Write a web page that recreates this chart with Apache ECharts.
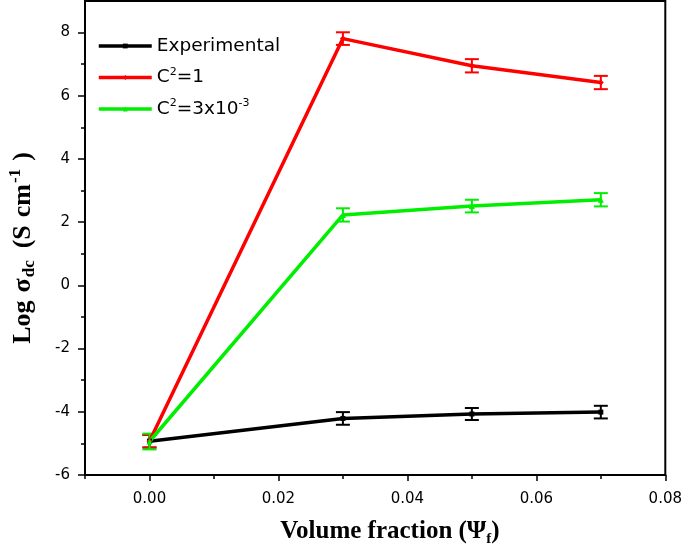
<!DOCTYPE html>
<html><head><meta charset="utf-8">
<script src="https://cdn.jsdelivr.net/npm/echarts@6/dist/echarts.min.js"></script>
<style>html,body{margin:0;padding:0;background:#fff}#c{width:685px;height:551px}</style>
</head><body><div id="c"></div>
<script>
const xValues = [0.00, 0.03, 0.05, 0.07];
const expVals = [-4.93, -4.21, -4.07, -4.01];
const expErr  = [0.2, 0.2, 0.19, 0.2];
const c1Vals  = [-4.93, 7.81, 6.95, 6.42];
const c1Err   = [0.2, 0.2, 0.21, 0.21];
const c3Vals  = [-4.94, 2.23, 2.51, 2.71];
const c3Err   = [0.25, 0.21, 0.2, 0.21];
const xTickLabels = [0.00, 0.02, 0.04, 0.06, 0.08];
const xMinor = [-0.01, 0.01, 0.03, 0.05, 0.07];
const yTickLabels = [-6, -4, -2, 0, 2, 4, 6, 8];
const yMinor = [-5, -3, -1, 1, 3, 5, 7];
const names = ['Experimental', 'C2=1', 'C2=3x10-3'];
const colors = ['#000000', '#ff0000', '#00ee00'];

const pairs = (ys) => xValues.map((x, i) => [x, ys[i]]);
function errSeries(ys, errs, color) {
  return {
    type: 'custom',
    data: xValues.map((x, i) => [x, ys[i] - errs[i], ys[i] + errs[i]]),
    renderItem: function (params, api) {
      const lo = api.coord([api.value(0), api.value(1)]);
      const hi = api.coord([api.value(0), api.value(2)]);
      const w = 7;
      const st = { stroke: color, lineWidth: 2 };
      return {
        type: 'group',
        children: [
          { type: 'line', shape: { x1: lo[0], y1: lo[1], x2: hi[0], y2: hi[1] }, style: st },
          { type: 'line', shape: { x1: lo[0] - w, y1: lo[1], x2: lo[0] + w, y2: lo[1] }, style: st },
          { type: 'line', shape: { x1: hi[0] - w, y1: hi[1], x2: hi[0] + w, y2: hi[1] }, style: st }
        ]
      };
    },
    silent: true, z: 3
  };
}
const chart = echarts.init(document.getElementById('c'));
const font = 'DejaVu Sans';
const serif = 'Liberation Serif';
chart.setOption({
  animation: false,
  grid: { left: 85, right: 16, top: 1, bottom: 76, show: true, borderColor: '#000', borderWidth: 2, containLabel: false },
  xAxis: [{
    type: 'value', min: -0.01, max: 0.08, interval: 0.01,
    axisLine: { onZero: false, lineStyle: { color: '#000', width: 2 } },
    axisTick: { inside: false, length: 6, lineStyle: { color: '#000', width: 1.5 }, customValues: xTickLabels },
    axisLabel: { customValues: xTickLabels, margin: 17, fontFamily: font, fontSize: 15, color: '#000', formatter: v => v.toFixed(2) },
    splitLine: { show: false }
  }, {
    type: 'value', min: -0.01, max: 0.08, position: 'bottom',
    axisLine: { show: false, onZero: false },
    axisTick: { inside: false, length: 4, lineStyle: { color: '#000', width: 1.5 }, customValues: xMinor },
    axisLabel: { show: false }, splitLine: { show: false }
  }],
  yAxis: [{
    type: 'value', min: -6, max: 9, interval: 1,
    axisLine: { show: true, onZero: false, lineStyle: { color: '#000', width: 2 } },
    axisTick: { show: true, inside: false, length: 7, lineStyle: { color: '#000', width: 1.5 }, customValues: yTickLabels },
    axisLabel: { customValues: yTickLabels, margin: 15, fontFamily: font, fontSize: 15, color: '#000' },
    splitLine: { show: false }
  }, {
    type: 'value', min: -6, max: 9, position: 'left',
    axisLine: { show: false, onZero: false },
    axisTick: { show: true, inside: false, length: 4, lineStyle: { color: '#000', width: 1.5 }, customValues: yMinor },
    axisLabel: { show: false }, splitLine: { show: false }
  }],
  legend: {
    left: 97, top: 35, padding: 0, orient: 'vertical', itemWidth: 53, itemHeight: 6, itemGap: 9.5,
    data: names,
    lineStyle: { width: 3.5 },
    textStyle: {
      fontFamily: font, fontSize: 18.5, color: '#000', lineHeight: 22,
      rich: { n: { fontFamily: font, fontSize: 18.5, color: '#000', lineHeight: 22 }, s: { fontFamily: font, fontSize: 11, color: '#000', padding: [0, 0, 11, 0] } }
    },
    formatter: function (name) {
      if (name === 'C2=1') return '{n|C}{s|2}{n|=1}';
      if (name === 'C2=3x10-3') return '{n|C}{s|2}{n|=3x10}{s|-3}';
      return '{n|' + name + '}';
    }
  },
  series: [
    { name: names[0], type: 'line', data: pairs(expVals), symbol: 'rect', symbolSize: 5, color: colors[0], lineStyle: { width: 3.5, color: colors[0] }, itemStyle: { color: colors[0] }, z: 4 },
    { name: names[1], type: 'line', data: pairs(c1Vals), symbol: 'diamond', symbolSize: 6, color: colors[1], lineStyle: { width: 3.5, color: colors[1] }, itemStyle: { color: colors[1] }, z: 4 },
    { name: names[2], type: 'line', data: pairs(c3Vals), symbol: 'triangle', symbolSize: 6, color: colors[2], lineStyle: { width: 3.5, color: colors[2] }, itemStyle: { color: colors[2] }, z: 4 },
    errSeries(expVals, expErr, colors[0]),
    errSeries(c1Vals, c1Err, colors[1]),
    errSeries(c3Vals, c3Err, colors[2])
  ],
  graphic: [
    { type: 'text', x: 390, y: 532,
      style: { text: '{a|Volume fraction (Ψ}{b|f}{a|)}', textAlign: 'center', textVerticalAlign: 'middle',
        rich: { a: { fontFamily: serif, fontWeight: 'bold', fontSize: 25, color: '#000' },
                b: { fontFamily: serif, fontWeight: 'bold', fontSize: 15, color: '#000', padding: [14, 0, 0, 0] } } } },
    { type: 'text', x: 23, y: 252, rotation: Math.PI / 2,
      style: { text: '{a|Log}{a|σ}{b|dc}{p|(S}{a|cm}{c|-1}{a|)}', textAlign: 'center', textVerticalAlign: 'middle',
        rich: { a: { fontFamily: serif, fontWeight: 'bold', fontSize: 26, color: '#000', padding: [0, 0, 0, 8] },
                p: { fontFamily: serif, fontWeight: 'bold', fontSize: 26, color: '#000', padding: [0, 0, 0, 12] },
                b: { fontFamily: serif, fontWeight: 'bold', fontSize: 17, color: '#000', padding: [14, 0, 0, 1] },
                c: { fontFamily: serif, fontWeight: 'bold', fontSize: 17, color: '#000', padding: [0, 0, 14, 1] } } } }
  ]
});
</script></body></html>
